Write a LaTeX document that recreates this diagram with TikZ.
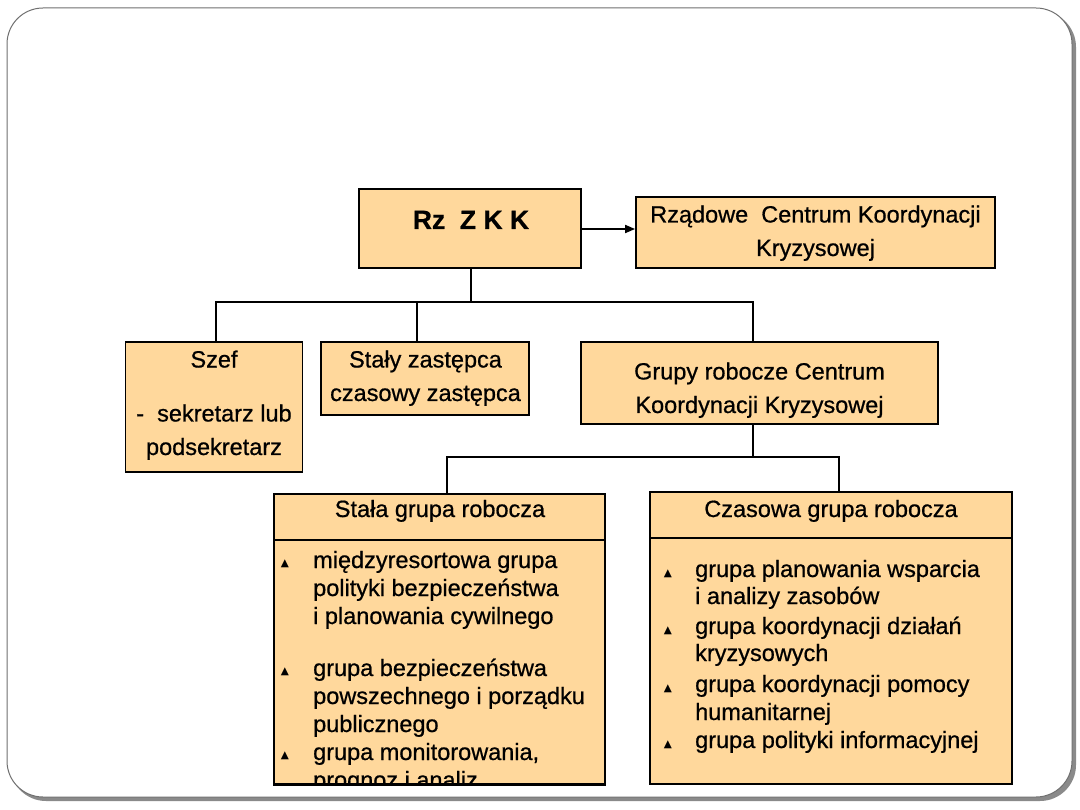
\documentclass[tikz,border=0pt]{standalone}
\usepackage{fontspec}
\setmainfont{Liberation Sans}[FakeBold=0.7]
\newfontfamily\dejavu{DejaVu Sans}
\usetikzlibrary{arrows.meta}
\definecolor{boxfill}{HTML}{FFD89C}
\definecolor{framegray}{HTML}{707070}
\definecolor{shadowgray}{HTML}{8A8A8A}
\begin{document}
\begin{tikzpicture}[x=1pt,y=-1pt,
  orgbox/.style={draw=black,fill=boxfill,line width=1.8pt,inner sep=0pt},
  lbl/.style={inner sep=0pt,align=center,anchor=base,font=\fontsize{23.5}{33.5}\selectfont},
  item/.style={inner sep=0pt,align=left,anchor=base west,font=\fontsize{23.5}{28}\selectfont},
  bul/.style={inner sep=0pt,anchor=base,font=\dejavu\fontsize{10.5}{11}\selectfont},
  conn/.style={draw=black,line width=1.8pt},
]
\useasboundingbox (0,0) rectangle (1080,810);
% slide frame with shadow
\fill[shadowgray,rounded corners=36pt] (10,11) rectangle (1076,801);
\draw[framegray,fill=white,line width=1pt,rounded corners=36pt] (7,8) rectangle (1072,797);

% boxes
\node[orgbox,minimum width=222pt,minimum height=79pt] (rzzkk) at (470,228.5) {};
\node[orgbox,minimum width=359pt,minimum height=71pt] (rckk) at (815.5,232.5) {};
\node[orgbox,minimum width=177pt,minimum height=130pt] (szef) at (214,407) {};
\node[orgbox,minimum width=208pt,minimum height=73pt] (staly) at (425,378.5) {};
\node[orgbox,minimum width=357pt,minimum height=82pt] (grupy) at (759.5,383) {};
\node[orgbox,minimum width=331pt,minimum height=290pt] (stala) at (439.5,639) {};
\node[orgbox,minimum width=362pt,minimum height=292pt] (czas) at (831,638) {};

% header dividers
\draw[conn] ([yshift=-47pt]stala.north west) -- ([yshift=-47pt]stala.north east);
\draw[conn] ([yshift=-47pt]czas.north west) -- ([yshift=-47pt]czas.north east);

% box texts (base anchor = baseline of the last line)
\node[lbl,font=\bfseries\fontsize{26.5}{30}\selectfont] (rzzkk-t) at (471,229) {Rz~~Z K K};
\node[lbl] (rckk-t) at (815.5,256) {Rządowe~~Centrum Koordynacji\\Kryzysowej};
\node[lbl] (szef-t) at (214,455) {Szef\\[20.5pt]-~~sekretarz lub\\podsekretarz};
\node[lbl] (staly-t) at (425.5,401) {Stały zastępca\\czasowy zastępca};
\node[lbl] (grupy-t) at (759.5,413) {Grupy robocze Centrum\\Koordynacji Kryzysowej};
\node[lbl] (stala-t) at (440,517) {Stała grupa robocza};
\node[lbl] (czas-t) at (831,517) {Czasowa grupa robocza};

% list of the permanent group (clipped by the box)
\begin{scope}
\clip (275,542) rectangle (604,783);
\node[bul] (sb1) at (285,566) {▲};
\node[item] (si1) at (313,624) {międzyresortowa grupa\\polityki bezpieczeństwa\\i planowania cywilnego};
\node[bul] (sb2) at (285,674) {▲};
\node[item] (si2) at (313,732) {grupa bezpieczeństwa\\powszechnego i porządku\\publicznego};
\node[bul] (sb3) at (285,758) {▲};
\node[item] (si3) at (313,788) {grupa monitorowania,\\prognoz i analiz};
\end{scope}
\draw[conn] (stala.south west) -- (stala.south east);

% list of the temporary group
\node[bul] (cb1) at (668,576) {▲};
\node[item,font=\fontsize{23.5}{27}\selectfont] (ci1) at (695,604) {grupa planowania wsparcia\\i~analizy zasobów};
\node[bul] (cb2) at (668,633) {▲};
\node[item,font=\fontsize{23.5}{27}\selectfont] (ci2) at (695,661) {grupa koordynacji działań\\kryzysowych};
\node[bul] (cb3) at (668,691) {▲};
\node[item,font=\fontsize{23.5}{28}\selectfont] (ci3) at (695,720) {grupa koordynacji pomocy\\humanitarnej};
\node[bul] (cb4) at (668,747) {▲};
\node[item] (ci4) at (695,748) {grupa polityki informacyjnej};

% connectors
\coordinate (bus1) at (471,302);
\coordinate (bus2) at (753,457);
\draw[conn,-{Triangle[length=10pt,width=8pt]}] (rzzkk.east |- rzzkk-t.base) coordinate (aS) -- (rckk.west |- aS);
\draw[conn] ([xshift=1pt]rzzkk.south) -- ([xshift=1pt]rzzkk.south |- bus1);
\draw[conn] ([xshift=2pt]szef.north) |- (bus1) -| ([xshift=-6.5pt]grupy.north);
\draw[conn] ([xshift=-8pt]staly.north) -- ([xshift=-8pt]staly.north |- bus1);
\draw[conn] ([xshift=-6.5pt]grupy.south) -- (bus2);
\draw[conn] ([xshift=7.5pt]stala.north) |- (bus2) -| ([xshift=8pt]czas.north);
\end{tikzpicture}
\end{document}
